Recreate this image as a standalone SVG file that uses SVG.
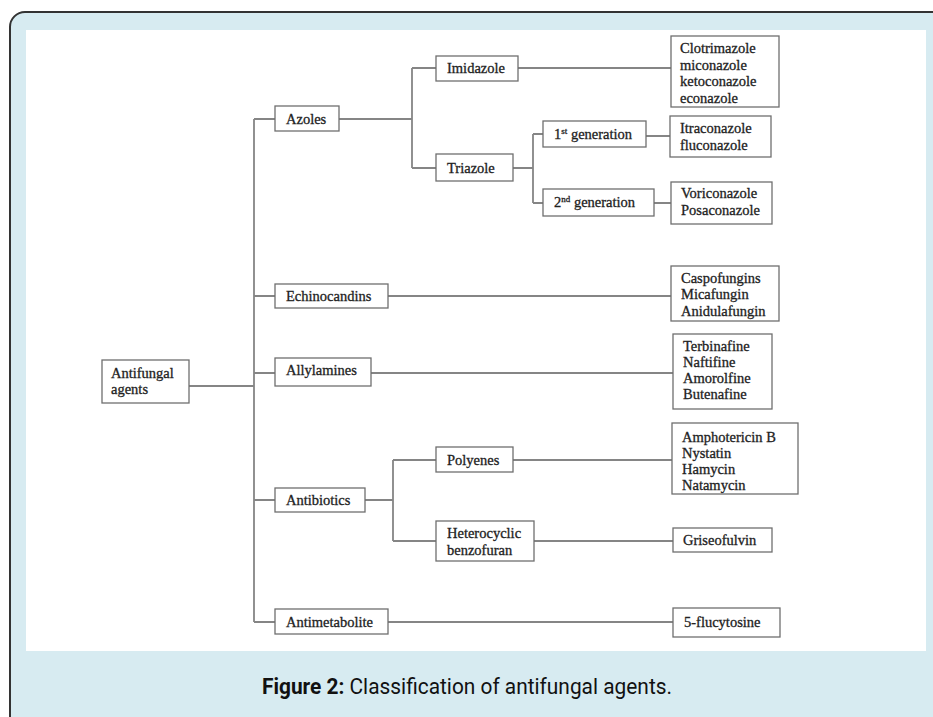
<svg xmlns="http://www.w3.org/2000/svg" width="933" height="717" viewBox="0 0 933 717">
<style>
.bx{fill:#fff;stroke:#6f6f6f;stroke-width:1.3}
.t{font-family:"Liberation Serif","Times New Roman",serif;font-size:14.5px;fill:#222;stroke:#222;stroke-width:0.3}
.c{fill:none;stroke:#858585;stroke-width:1.8}
.cap{font-family:Roboto,"Liberation Sans",sans-serif;font-size:22px;fill:#111}
</style>
<rect x="10" y="12" width="945" height="730" rx="15" fill="#d7ebf1" stroke="#333" stroke-width="2"/>
<rect x="26" y="30" width="900" height="621" fill="#fff"/>
<g id="connectors">
<path class="c" d="M189 386H254M254 119V622M254 119H275M254 296H275M254 373H275M254 500H275M254 622H275"/>
<path class="c" d="M339 119H412M412 68V168M412 68H436M412 168H436M518 68H671"/>
<path class="c" d="M513 168H533M533 134V203M533 134H543M533 203H543M646 136H670M654 203H671"/>
<path class="c" d="M388 296H671M371 373H673"/>
<path class="c" d="M365 500H393M393 460V541M393 460H436M393 541H436M513 460H672M534 541H673M388 622H673"/>
</g>
<g id="antifungal"><rect class="bx" x="102" y="360" width="87" height="43"/><text class="t" x="111" y="378">Antifungal</text><text class="t" x="111" y="394">agents</text></g>
<g id="azoles"><rect class="bx" x="275" y="106" width="64" height="25"/><text class="t" x="286" y="124">Azoles</text></g>
<g id="imidazole"><rect class="bx" x="436" y="56" width="82" height="25"/><text class="t" x="447" y="73">Imidazole</text></g>
<g id="triazole"><rect class="bx" x="436" y="154" width="77" height="27"/><text class="t" x="447" y="173">Triazole</text></g>
<g id="gen1"><rect class="bx" x="543" y="121" width="103" height="26"/><text class="t" x="554" y="139">1<tspan font-size="9" dy="-5">st</tspan><tspan dy="5"> generation</tspan></text></g>
<g id="gen2"><rect class="bx" x="543" y="189" width="111" height="27"/><text class="t" x="554" y="207">2<tspan font-size="9" dy="-5">nd</tspan><tspan dy="5"> generation</tspan></text></g>
<g id="imidazole-drugs"><rect class="bx" x="671" y="36" width="108" height="71"/><text class="t" x="680" y="53">Clotrimazole</text><text class="t" x="680" y="70">miconazole</text><text class="t" x="680" y="86">ketoconazole</text><text class="t" x="680" y="103">econazole</text></g>
<g id="gen1-drugs"><rect class="bx" x="670" y="116" width="101" height="41"/><text class="t" x="680" y="133">Itraconazole</text><text class="t" x="680" y="150">fluconazole</text></g>
<g id="gen2-drugs"><rect class="bx" x="671" y="182" width="101" height="42"/><text class="t" x="681" y="198">Voriconazole</text><text class="t" x="681" y="215">Posaconazole</text></g>
<g id="echinocandins"><rect class="bx" x="275" y="284" width="113" height="24"/><text class="t" x="286" y="301">Echinocandins</text></g>
<g id="echinocandin-drugs"><rect class="bx" x="671" y="266" width="108" height="55"/><text class="t" x="681" y="283">Caspofungins</text><text class="t" x="681" y="299">Micafungin</text><text class="t" x="681" y="316">Anidulafungin</text></g>
<g id="allylamines"><rect class="bx" x="275" y="358" width="96" height="28"/><text class="t" x="286" y="375">Allylamines</text></g>
<g id="allylamine-drugs"><rect class="bx" x="673" y="334" width="99" height="75"/><text class="t" x="683" y="351">Terbinafine</text><text class="t" x="683" y="367">Naftifine</text><text class="t" x="683" y="383">Amorolfine</text><text class="t" x="683" y="399">Butenafine</text></g>
<g id="antibiotics"><rect class="bx" x="275" y="488" width="90" height="24"/><text class="t" x="286" y="505">Antibiotics</text></g>
<g id="polyenes"><rect class="bx" x="436" y="447" width="77" height="25"/><text class="t" x="447" y="465">Polyenes</text></g>
<g id="heterocyclic"><rect class="bx" x="436" y="521" width="98" height="40"/><text class="t" x="447" y="538">Heterocyclic</text><text class="t" x="447" y="555">benzofuran</text></g>
<g id="polyene-drugs"><rect class="bx" x="672" y="423" width="126" height="71"/><text class="t" x="682" y="442">Amphotericin B</text><text class="t" x="682" y="458">Nystatin</text><text class="t" x="682" y="474">Hamycin</text><text class="t" x="682" y="490">Natamycin</text></g>
<g id="griseofulvin"><rect class="bx" x="673" y="528" width="99" height="24"/><text class="t" x="683" y="545">Griseofulvin</text></g>
<g id="antimetabolite"><rect class="bx" x="275" y="609" width="113" height="25"/><text class="t" x="286" y="627">Antimetabolite</text></g>
<g id="flucytosine"><rect class="bx" x="673" y="608" width="107" height="29"/><text class="t" x="684" y="627">5-flucytosine</text></g>
<text class="cap" x="262" y="694" textLength="410" lengthAdjust="spacingAndGlyphs"><tspan font-weight="bold">Figure 2:</tspan> Classification of antifungal agents.</text>
</svg>
